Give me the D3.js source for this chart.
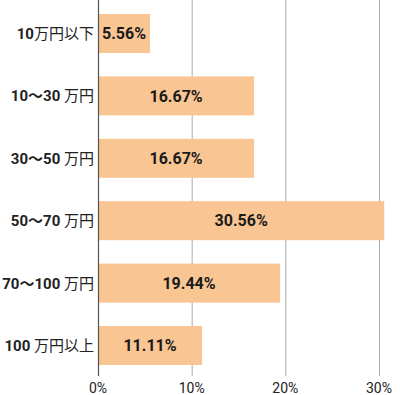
<!DOCTYPE html>
<html lang="ja">
<head>
<meta charset="UTF-8">
<title>金額分布</title>
<script src="https://d3js.org/d3.v7.min.js"></script>
<style>
  body { margin: 0; background: #fff; }
  svg { display: block; font-family: Roboto, "Noto Sans CJK JP", sans-serif; }
  .grid line { stroke: #aaa; stroke-width: 1; }
  .bar { fill: #f8c593; }
  .cat { font-size: 15px; fill: #222; }
  .cat .num { font-weight: bold; }
  .val { font-size: 16px; font-weight: bold; fill: #1a1a1a; }
  .tick-label { font-size: 14px; fill: #222; }
</style>
</head>
<body>
<svg id="chart"></svg>
<script>
  const categories = ["10万円以下", "10～30 万円", "30～50 万円", "50～70 万円", "70～100 万円", "100 万円以上"];
  const values = [5.56, 16.67, 16.67, 30.56, 19.44, 11.11];
  const ticks = [0, 10, 20, 30];

  const width = 400, height = 395;
  const svg = d3.select("#chart").attr("width", width).attr("height", height);

  const x = d3.scaleLinear().domain([0, 30]).range([98, 379]);
  const y = d3.scaleBand().domain(categories).range([2.3, 376.7])
      .paddingInner(0.375).paddingOuter(0.1875);

  // grid lines
  svg.append("g").attr("class", "grid")
    .selectAll("line").data(ticks.slice(1)).enter().append("line")
      .attr("x1", d => x(d) + 0.5).attr("x2", d => x(d) + 0.5)
      .attr("y1", 0).attr("y2", 376);

  // bars
  svg.selectAll(".bar").data(values).enter().append("rect")
    .attr("class", "bar")
    .attr("x", x(0))
    .attr("y", (d, i) => y(categories[i]))
    .attr("width", d => x(d) - x(0))
    .attr("height", y.bandwidth());

  // zero axis
  svg.append("line")
    .attr("x1", x(0) + 0.5).attr("x2", x(0) + 0.5)
    .attr("y1", 0).attr("y2", 376)
    .attr("stroke", "#555").attr("stroke-width", 1.2);

  // value labels
  svg.selectAll(".val").data(values).enter().append("text")
    .attr("class", "val")
    .attr("x", d => (x(0) + x(d)) / 2)
    .attr("y", (d, i) => y(categories[i]) + y.bandwidth() / 2)
    .attr("dy", "0.36em")
    .attr("text-anchor", "middle")
    .text(d => d.toFixed(2) + "%");

  // category labels: digits bold, kanji regular
  const cat = svg.selectAll(".cat").data(categories).enter().append("text")
    .attr("class", "cat")
    .attr("x", 94)
    .attr("y", d => y(d) + y.bandwidth() / 2)
    .attr("dy", "0.36em")
    .attr("text-anchor", "end");
  cat.each(function(d) {
    const t = d3.select(this);
    d.split(/([0-9～]+)/).filter(s => s.length).forEach(s => {
      t.append("tspan").attr("class", /[0-9]/.test(s) ? "num" : null).text(s);
    });
  });

  // x tick labels
  svg.selectAll(".tick-label").data(ticks).enter().append("text")
    .attr("class", "tick-label")
    .attr("x", d => x(d))
    .attr("y", 393)
    .attr("text-anchor", "middle")
    .text(d => d + "%");
</script>
</body>
</html>
